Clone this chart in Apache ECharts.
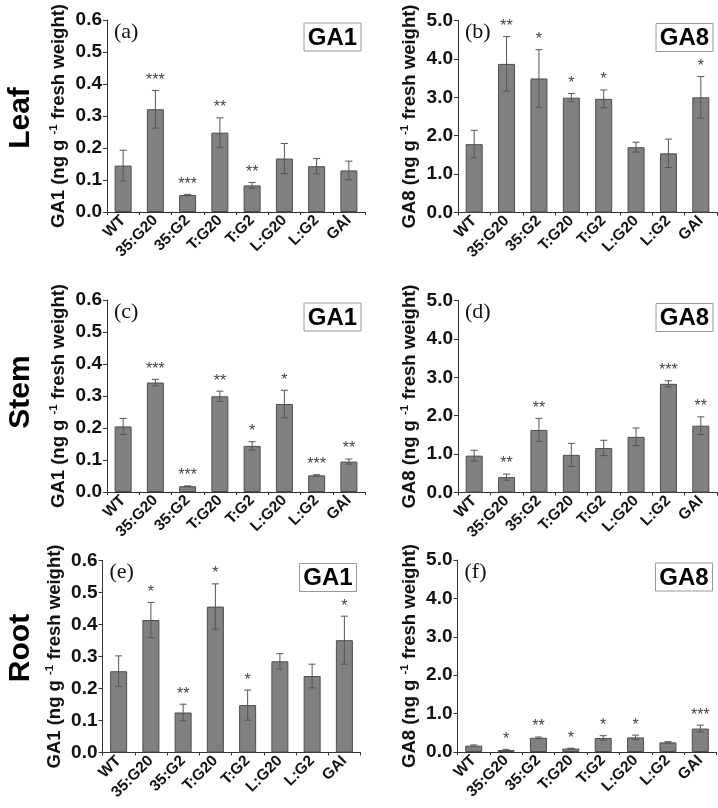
<!DOCTYPE html>
<html>
<head>
<meta charset="utf-8">
<script src="https://cdn.jsdelivr.net/npm/echarts@6/dist/echarts.min.js"></script>
<style>
html, body { margin: 0; padding: 0; background: #fff; }
#container { width: 718px; height: 808px; }
</style>
</head>
<body>
<div id="container"></div>
<script>
var dom = document.getElementById("container");
var myChart = echarts.init(dom);
var option;

// x categories, same in every panel
var categories = ["WT", "35:G20", "35:G2", "T:G20", "T:G2", "L:G20", "L:G2", "GAI"];

// (a) leaf GA1
var leafGA1 = [0.145, 0.321, 0.053, 0.248, 0.083, 0.167, 0.143, 0.130];
var leafGA1Err = [0.048, 0.059, 0.002, 0.046, 0.009, 0.047, 0.024, 0.029];
var leafGA1Sig = ["", "***", "***", "**", "**", "", "", ""];

// (b) leaf GA8
var leafGA8 = [1.78, 3.87, 3.49, 2.99, 2.96, 1.70, 1.54, 3.00];
var leafGA8Err = [0.36, 0.71, 0.75, 0.11, 0.23, 0.13, 0.37, 0.54];
var leafGA8Sig = ["", "**", "*", "*", "*", "", "", "*"];

// (c) stem GA1
var stemGA1 = [0.205, 0.342, 0.018, 0.299, 0.144, 0.275, 0.052, 0.095];
var stemGA1Err = [0.025, 0.010, 0.001, 0.016, 0.013, 0.043, 0.002, 0.008];
var stemGA1Sig = ["", "***", "***", "**", "*", "*", "***", "**"];

// (d) stem GA8
var stemGA8 = [0.96, 0.40, 1.63, 0.98, 1.16, 1.45, 2.83, 1.74];
var stemGA8Err = [0.14, 0.08, 0.30, 0.30, 0.20, 0.23, 0.08, 0.23];
var stemGA8Sig = ["", "**", "**", "", "", "", "***", "**"];

// (e) root GA1
var rootGA1 = [0.254, 0.414, 0.125, 0.456, 0.148, 0.285, 0.239, 0.351];
var rootGA1Err = [0.048, 0.055, 0.026, 0.071, 0.047, 0.024, 0.037, 0.075];
var rootGA1Sig = ["", "*", "**", "*", "*", "", "", "*"];

// (f) root GA8
var rootGA8 = [0.165, 0.05, 0.37, 0.09, 0.365, 0.38, 0.25, 0.61];
var rootGA8Err = [0.02, 0.02, 0.02, 0.01, 0.06, 0.06, 0.02, 0.09];
var rootGA8Sig = ["", "*", "**", "*", "*", "*", "", "***"];

var organs = ["Leaf", "Stem", "Root"];

var FONT = "'Liberation Sans', Arial, sans-serif";

var panels = [
  { tag: "(a)", ga: "GA1", vals: leafGA1, errs: leafGA1Err, sig: leafGA1Sig, max: 0.6, step: 0.1,
    grid: { left: 107, top: 20, width: 258, height: 192 } },
  { tag: "(b)", ga: "GA8", vals: leafGA8, errs: leafGA8Err, sig: leafGA8Sig, max: 5, step: 1,
    grid: { left: 458, top: 20.5, width: 259, height: 192 } },
  { tag: "(c)", ga: "GA1", vals: stemGA1, errs: stemGA1Err, sig: stemGA1Sig, max: 0.6, step: 0.1,
    grid: { left: 107, top: 300, width: 258, height: 192 } },
  { tag: "(d)", ga: "GA8", vals: stemGA8, errs: stemGA8Err, sig: stemGA8Sig, max: 5, step: 1,
    grid: { left: 458, top: 300.5, width: 259, height: 192 } },
  { tag: "(e)", ga: "GA1", vals: rootGA1, errs: rootGA1Err, sig: rootGA1Sig, max: 0.6, step: 0.1,
    grid: { left: 102.5, top: 560.5, width: 258, height: 192 } },
  { tag: "(f)", ga: "GA8", vals: rootGA8, errs: rootGA8Err, sig: rootGA8Sig, max: 5, step: 1,
    grid: { left: 457.5, top: 560, width: 259, height: 192 } }
];

var grids = [], xAxes = [], yAxes = [], series = [], graphics = [];

panels.forEach(function (p, k) {
  var g = p.grid;
  grids.push({ left: g.left, top: g.top, width: g.width, height: g.height,
    containLabel: false, outerBoundsMode: "none" });

  xAxes.push({
    type: "category", gridIndex: k, data: categories,
    axisLine: { lineStyle: { color: "#333", width: 1 } },
    axisTick: { show: true, length: 3, lineStyle: { color: "#333" } },
    axisLabel: { rotate: 45, interval: 0, margin: 6, fontSize: 15.5, fontWeight: "bold",
      fontFamily: FONT, color: "#111" },
    splitLine: { show: false }
  });

  yAxes.push({
    type: "value", gridIndex: k, min: 0, max: p.max, interval: p.step,
    name: "{n|" + p.ga + " (ng g }{s|-1}{n| fresh weight)}",
    nameLocation: "middle", nameGap: 37, nameRotate: 90,
    nameTextStyle: {
      rich: {
        n: { fontSize: 18.5, fontWeight: "bold", fontFamily: FONT, color: "#111", lineHeight: 22 },
        s: { fontSize: 11.5, fontWeight: "bold", fontFamily: FONT, color: "#111", verticalAlign: "top" }
      }
    },
    axisLine: { show: true, lineStyle: { color: "#333", width: 1 } },
    axisTick: { show: true, length: 4, lineStyle: { color: "#333" } },
    axisLabel: { margin: 5, fontSize: 19, fontWeight: "bold", fontFamily: FONT, color: "#111",
      formatter: function (v) { return v.toFixed(1); } },
    splitLine: { show: false }
  });

  series.push({
    type: "bar", xAxisIndex: k, yAxisIndex: k, data: p.vals, barWidth: 17,
    itemStyle: { color: "#808080", borderColor: "#4d4d4d", borderWidth: 1 },
    silent: true
  });

  // error bars with significance stars
  series.push({
    type: "custom", xAxisIndex: k, yAxisIndex: k, z: 5, silent: true,
    data: p.vals.map(function (v, i) { return [i, v, p.errs[i]]; }),
    encode: { x: 0, y: 1 },
    renderItem: function (params, api) {
      var i = api.value(0), v = api.value(1), e = api.value(2);
      var hi = api.coord([i, v + e]);
      var lo = api.coord([i, Math.max(v - e, 0)]);
      var w = 3.5;
      var st = { stroke: "#555", lineWidth: 1 };
      var kids = [
        { type: "line", shape: { x1: hi[0], y1: hi[1], x2: lo[0], y2: lo[1] }, style: st },
        { type: "line", shape: { x1: hi[0] - w, y1: hi[1], x2: hi[0] + w, y2: hi[1] }, style: st },
        { type: "line", shape: { x1: lo[0] - w, y1: lo[1], x2: lo[0] + w, y2: lo[1] }, style: st }
      ];
      var s = p.sig[params.dataIndex];
      if (s) {
        kids.push({ type: "text", x: hi[0], y: hi[1] - 2,
          style: { text: s, fill: "#444", font: "16px " + FONT, align: "center", verticalAlign: "bottom" } });
      }
      return { type: "group", children: kids };
    }
  });

  // panel letter
  graphics.push({ type: "text", x: g.left + 7, y: g.top + 12,
    style: { text: p.tag, fill: "#111", font: "22px 'Liberation Serif', 'Times New Roman', serif",
      align: "left", verticalAlign: "middle" } });

  // hormone box
  var bx = g.left + g.width - 61, by = g.top + 3;
  graphics.push({ type: "rect", shape: { x: bx, y: by, width: 57, height: 28 },
    style: { fill: "#fff", stroke: "#999", lineWidth: 1 } });
  graphics.push({ type: "text", x: bx + 28.5, y: by + 15,
    style: { text: p.ga, fill: "#000", font: "bold 24px " + FONT, align: "center", verticalAlign: "middle" } });
});

// row labels
var rowY = [118, 392, 648];
organs.forEach(function (name, r) {
  graphics.push({ type: "text", x: 21, y: rowY[r], rotation: Math.PI / 2,
    style: { text: name, fill: "#000", font: "bold 30px " + FONT, align: "center", verticalAlign: "middle" } });
});

option = {
  animation: false,
  backgroundColor: "#fff",
  grid: grids,
  xAxis: xAxes,
  yAxis: yAxes,
  series: series,
  graphic: graphics
};

myChart.setOption(option);
</script>
</body>
</html>
